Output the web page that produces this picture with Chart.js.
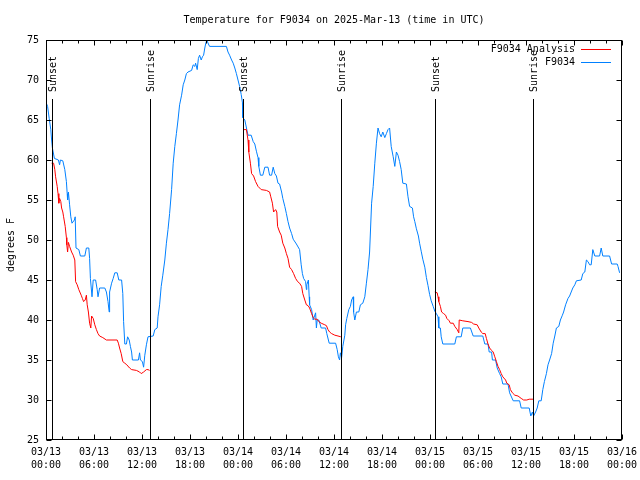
<!DOCTYPE html>
<html>
<head>
<meta charset="utf-8">
<script src="https://cdn.jsdelivr.net/npm/chart.js@4.4.1/dist/chart.umd.min.js"></script>
<style>
  html, body { margin: 0; padding: 0; background: #fff; }
  #wrap { width: 640px; height: 480px; }
</style>
</head>
<body>
<div id="wrap"><canvas id="chart" width="640" height="480"></canvas></div>
<script>
// hours since 03/13 00:00 UTC, degrees F

// F9034 station readings
const obsHours = [
  0.0, 0.2, 0.4, 0.6, 0.7, 0.8, 1.05, 1.55, 1.7, 1.8, 2.1, 2.35, 2.55, 2.65, 2.7, 2.8, 2.95, 3.1, 3.25, 3.55,
  3.65, 3.75, 4.1, 4.3, 4.85, 5.05, 5.35, 5.45, 5.55, 5.7, 5.75, 5.9, 6.2, 6.4, 6.5, 6.7, 7.35, 7.55, 7.75, 7.9,
  7.95, 8.2, 8.4, 8.6, 8.9, 9.1, 9.45, 9.6, 9.7, 9.85, 10.05, 10.2, 10.4, 10.55, 10.7, 10.8, 11.55, 11.7, 11.8, 12.05,
  12.2, 12.35, 12.55, 12.75, 13.4, 13.6, 13.9, 14.0, 14.2, 14.4, 14.6, 14.85, 15.05, 15.25, 15.45, 15.7, 15.9, 16.1, 16.3, 16.5,
  16.7, 16.95, 17.15, 17.35, 17.55, 17.75, 18.2, 18.4, 18.6, 18.7, 18.9, 19.05, 19.2, 19.4, 19.55, 19.7, 19.85, 19.95, 20.1, 20.3,
  20.45, 22.55, 22.75, 22.95, 23.2, 23.4, 23.6, 23.8, 24.0, 24.2, 24.4, 24.55, 24.6, 24.85, 25.1, 25.25, 25.65, 25.9, 26.1, 26.3,
  26.5, 26.6, 26.8, 27.1, 27.35, 27.75, 27.95, 28.2, 28.4, 28.6, 28.8, 29.0, 29.2, 29.45, 29.6, 29.85, 30.05, 30.25, 30.45, 30.7,
  30.9, 31.3, 31.7, 31.9, 32.05, 32.2, 32.45, 32.55, 32.6, 32.8, 32.9, 32.95, 33.2, 33.4, 33.7, 33.8, 33.9, 34.1, 34.4, 34.95,
  35.1, 35.4, 36.2, 36.4, 36.55, 36.7, 36.8, 36.95, 37.1, 37.35, 37.45, 37.6, 37.85, 38.05, 38.2, 38.4, 38.45, 38.6, 38.8, 39.1,
  39.3, 39.6, 39.85, 40.05, 40.25, 40.45, 40.7, 40.9, 41.1, 41.3, 41.5, 41.7, 41.9, 42.1, 42.35, 42.55, 42.75, 42.95, 43.15, 43.4,
  43.6, 43.8, 44.0, 44.2, 44.4, 44.6, 45.05, 45.25, 45.45, 45.8, 45.95, 46.1, 46.3, 46.55, 46.7, 46.9, 47.1, 47.35, 47.55, 47.75,
  47.95, 48.15, 48.4, 48.6, 48.8, 49.0, 49.1, 49.3, 49.4, 49.6, 51.1, 51.3, 51.9, 52.1, 53.05, 53.4, 54.6, 54.85, 55.25, 55.4,
  55.7, 55.8, 56.2, 56.4, 56.7, 56.9, 57.1, 57.75, 57.95, 58.4, 59.2, 59.4, 60.4, 60.6, 60.8, 60.95, 61.2, 61.4, 61.6, 61.9,
  62.1, 62.3, 62.55, 62.75, 62.95, 63.2, 63.4, 63.6, 63.8, 64.1, 64.3, 64.55, 64.7, 64.95, 65.25, 65.45, 65.65, 65.85, 66.1, 66.3,
  66.9, 67.1, 67.35, 67.55, 67.75, 67.95, 68.15, 68.35, 68.6, 69.2, 69.4, 69.6, 70.45, 70.7, 71.4, 71.5, 71.7
];
const obsTemps = [
  67.2, 66.7, 65.2, 63.8, 62.5, 61.5, 60.2, 60.0, 59.4, 60.0, 59.9, 58.8, 57.3, 55.8, 55.0, 56.0, 54.4, 52.9, 52.1, 52.5,
  52.9, 49.0, 48.8, 48.0, 48.0, 49.0, 49.0, 47.7, 45.2, 43.5, 42.9, 45.0, 45.0, 43.8, 42.9, 44.0, 44.0, 43.5, 42.3, 41.0,
  43.5, 44.6, 45.2, 45.9, 45.9, 45.0, 45.0, 43.3, 39.8, 37.0, 37.0, 37.9, 37.5, 36.7, 36.0, 35.0, 35.0, 35.9, 35.0, 34.8,
  34.1, 35.6, 36.9, 37.9, 38.0, 38.8, 39.0, 40.4, 41.9, 44.2, 45.6, 47.5, 49.6, 51.3, 53.3, 56.3, 59.6, 61.7, 63.3, 65.0,
  66.9, 68.1, 69.4, 70.0, 70.8, 71.0, 71.2, 71.9, 71.7, 72.1, 71.3, 72.7, 73.1, 72.5, 72.9, 73.1, 74.0, 74.5, 75.0, 74.5,
  74.2, 74.2, 73.5, 73.1, 72.5, 72.1, 71.5, 70.8, 70.0, 69.2, 68.2, 67.2, 65.3, 65.0, 63.8, 63.1, 63.1, 62.3, 62.0, 61.1,
  60.3, 59.2, 58.1, 58.1, 59.1, 59.1, 58.1, 58.1, 59.1, 58.3, 58.0, 57.1, 57.0, 56.0, 55.2, 54.2, 53.3, 52.3, 51.5, 50.8,
  50.1, 49.5, 48.8, 46.9, 45.8, 45.2, 44.8, 43.8, 44.4, 45.0, 42.9, 41.9, 41.3, 40.0, 40.9, 39.0, 40.0, 40.0, 39.0, 39.0,
  38.3, 37.1, 37.1, 36.3, 35.4, 35.0, 35.9, 35.3, 36.7, 38.1, 39.4, 40.2, 41.3, 41.7, 42.5, 42.9, 41.0, 40.0, 41.0, 41.0,
  41.9, 42.1, 42.9, 44.6, 46.3, 48.5, 54.6, 56.7, 59.6, 62.1, 64.0, 63.3, 62.9, 63.5, 62.8, 63.3, 63.8, 64.0, 61.7, 60.4,
  59.2, 61.0, 60.6, 59.8, 58.8, 57.1, 57.0, 55.4, 54.2, 54.0, 52.9, 52.3, 51.4, 50.5, 49.6, 48.6, 47.6, 46.6, 45.3, 44.3,
  43.2, 42.4, 41.7, 41.1, 40.8, 40.4, 39.0, 39.0, 37.9, 37.0, 37.0, 37.9, 37.9, 39.0, 39.0, 38.0, 38.0, 37.0, 37.0, 36.0,
  36.0, 35.0, 35.0, 34.0, 33.3, 32.9, 32.0, 32.0, 30.9, 29.9, 29.9, 29.0, 29.0, 28.0, 28.5, 28.0, 28.5, 29.0, 29.9, 29.9,
  31.3, 32.3, 33.3, 34.4, 35.0, 35.8, 37.1, 38.0, 39.0, 39.2, 40.0, 40.6, 41.0, 41.9, 42.7, 43.0, 43.5, 44.0, 44.4, 44.9,
  45.0, 45.8, 46.0, 47.5, 47.3, 46.9, 46.9, 48.8, 48.0, 48.0, 49.0, 48.0, 48.0, 47.0, 47.0, 46.7, 45.9
];

// F9034 Analysis (night-time only; null splits the nights)
const anaHours = [
  0.7, 0.95, 1.1, 1.2, 1.4, 1.5, 1.6, 1.7, 1.85, 1.95, 2.1, 2.2, 2.4, 2.55, 2.6, 2.7, 2.8, 2.95, 3.2, 3.4,
  3.6, 3.7, 3.9, 4.1, 4.4, 4.55, 4.7, 4.9, 5.05, 5.15, 5.3, 5.45, 5.6, 5.7, 5.9, 6.1, 6.3, 6.5, 6.7, 7.1,
  7.55, 8.9, 9.05, 9.2, 9.4, 9.6, 9.85, 10.1, 10.45, 10.7, 11.3, 11.7, 11.9, 12.2, 12.55, 12.75, 12.95,
  18.0,
  24.65, 25.05, 25.25, 25.35, 25.55, 25.7, 25.95, 26.2, 26.5, 26.9, 27.55, 27.95, 28.1, 28.3, 28.45, 28.7, 28.85, 28.95, 29.2, 29.4,
  29.6, 29.85, 30.05, 30.25, 30.45, 30.7, 30.95, 31.2, 31.45, 31.7, 31.95, 32.1, 32.35, 32.55, 32.75, 32.95, 33.2, 33.4, 33.6, 33.9,
  34.1, 34.4, 34.85, 35.05, 35.25, 35.45, 35.7, 36.1, 36.5, 36.85,
  42.0,
  48.6, 48.9, 49.0, 49.1, 49.3, 49.45, 49.7, 49.95, 50.1, 50.4, 50.55, 50.9, 51.1, 51.4, 51.6, 51.65, 52.1, 52.75, 53.2, 53.45,
  53.9, 54.1, 54.4, 54.6, 54.9, 55.05, 55.25, 55.45, 55.7, 55.9, 56.1, 56.3, 56.5, 56.7, 56.9, 57.1, 57.45, 57.6, 57.9, 58.05,
  58.3, 58.6, 59.0, 59.4, 59.7, 60.1, 60.4, 60.9
];
const anaTemps = [
  59.6, 59.6, 58.8, 57.9, 56.7, 55.8, 54.6, 55.2, 54.8, 54.0, 53.5, 52.9, 51.7, 50.3, 49.4, 48.5, 49.7, 49.2, 48.5, 48.1,
  47.5, 44.8, 44.4, 43.8, 43.1, 42.7, 42.3, 42.5, 43.1, 41.9, 41.0, 39.6, 39.0, 40.5, 40.2, 39.4, 38.8, 38.3, 38.0, 37.8,
  37.5, 37.5, 37.1, 36.5, 35.8, 34.8, 34.6, 34.4, 34.0, 33.8, 33.7, 33.5, 33.3, 33.5, 33.8, 33.8, 33.7,
  null,
  63.8, 63.8, 62.5, 61.0, 59.6, 58.3, 58.0, 57.3, 56.7, 56.3, 56.2, 56.0, 55.4, 54.6, 53.5, 53.8, 53.5, 51.7, 51.0, 50.6,
  49.6, 49.0, 48.3, 47.7, 46.6, 46.3, 45.8, 45.2, 44.8, 44.6, 44.2, 43.3, 42.5, 41.9, 41.8, 41.5, 40.8, 40.3, 40.1, 40.1,
  39.8, 39.6, 39.4, 39.3, 38.8, 38.5, 38.3, 38.1, 38.0, 37.9,
  null,
  43.5, 43.4, 42.9, 42.3, 41.7, 41.0, 40.8, 40.6, 40.2, 39.9, 39.6, 39.6, 39.2, 38.8, 38.4, 40.0, 39.9, 39.8, 39.7, 39.5,
  39.4, 39.0, 38.5, 38.3, 38.3, 37.7, 37.0, 36.5, 36.2, 36.0, 35.4, 34.8, 34.2, 33.8, 33.3, 32.9, 32.5, 32.1, 31.9, 31.3,
  30.9, 30.6, 30.5, 30.2, 30.0, 30.0, 30.1, 30.1
];

// sunset / sunrise markers
const sunHours = [0.74, 13.0, 24.6, 36.9, 48.6, 60.9];
const sunLabels = ['Sunset', 'Sunrise', 'Sunset', 'Sunrise', 'Sunset', 'Sunrise'];

// x tick labels, one per 6 hours
const tickDates = ['03/13', '03/13', '03/13', '03/13', '03/14', '03/14', '03/14', '03/14', '03/15', '03/15', '03/15', '03/15', '03/16'];
const tickTimes = ['00:00', '06:00', '12:00', '18:00', '00:00', '06:00', '12:00', '18:00', '00:00', '06:00', '12:00', '18:00', '00:00'];

const FONT = '"DejaVu Sans Mono", "Liberation Mono", monospace';

function toPoints(xs, ys) {
	return xs.map((x, i) => ({ x: x, y: ys[i] }));
}

// gnuplot-ish frame: border, inward ticks, texts, sun markers, legend
const gnuplotFrame = {
	id: 'gnuplotFrame',
	afterDatasetsDraw(chart) {
		const ctx = chart.ctx;
		const a = chart.chartArea;
		const xs = chart.scales.x;
		const ys = chart.scales.y;
		ctx.save();
		ctx.strokeStyle = '#000';
		ctx.lineWidth = 1;

		// sunrise / sunset lines
		ctx.beginPath();
		sunHours.forEach((h) => {
			const px = Math.round(xs.getPixelForValue(h)) + 0.5;
			ctx.moveTo(px, 99);
			ctx.lineTo(px, a.bottom);
		});
		ctx.stroke();

		// border
		const l = Math.round(a.left) + 0.5, r = Math.round(a.right) - 0.5;
		const t = Math.round(a.top) + 0.5, b = Math.round(a.bottom) - 0.5;
		ctx.strokeRect(l, t, r - l, b - t);

		// x ticks, major every 6h and minor every 2h, top and bottom
		ctx.beginPath();
		for (let h = 0; h <= 72; h += 2) {
			const px = Math.round(xs.getPixelForValue(h)) + 0.5;
			const len = h % 6 === 0 ? 5 : 3;
			ctx.moveTo(px, b); ctx.lineTo(px, b - len);
			ctx.moveTo(px, t); ctx.lineTo(px, t + len);
		}
		// y ticks, left and right
		for (let v = 25; v <= 75; v += 5) {
			const py = Math.round(ys.getPixelForValue(v)) + 0.5;
			ctx.moveTo(l, py); ctx.lineTo(l + 5, py);
			ctx.moveTo(r, py); ctx.lineTo(r - 5, py);
		}
		ctx.stroke();

		ctx.fillStyle = '#000';
		ctx.font = '10px ' + FONT;

		// marker labels, rotated
		sunHours.forEach((h, i) => {
			const px = Math.round(xs.getPixelForValue(h)) + 1.5;
			ctx.save();
			ctx.translate(px, 92);
			ctx.rotate(-Math.PI / 2);
			ctx.textAlign = 'left';
			ctx.textBaseline = 'middle';
			ctx.fillText(sunLabels[i], 0, 0);
			ctx.restore();
		});

		// title
		ctx.textAlign = 'center';
		ctx.textBaseline = 'middle';
		ctx.fillText('Temperature for F9034 on 2025-Mar-13 (time in UTC)', (a.left + a.right) / 2, 20);

		// y axis label
		ctx.save();
		ctx.translate(11, 245);
		ctx.rotate(-Math.PI / 2);
		ctx.fillText('degrees F', 0, 0);
		ctx.restore();

		// legend
		const keys = [
			{ label: 'F9034 Analysis', color: '#ff0000', y: 49.5 },
			{ label: 'F9034', color: '#0080ff', y: 62.5 }
		];
		keys.forEach((k) => {
			ctx.textAlign = 'right';
			ctx.fillStyle = '#000';
			ctx.fillText(k.label, 575, k.y);
			ctx.strokeStyle = k.color;
			ctx.beginPath();
			ctx.moveTo(581, k.y);
			ctx.lineTo(611, k.y);
			ctx.stroke();
		});
		ctx.restore();
	}
};

new Chart(document.getElementById('chart'), {
	type: 'line',
	data: {
		datasets: [
			{
				label: 'F9034 Analysis',
				data: toPoints(anaHours, anaTemps),
				borderColor: '#ff0000',
				borderWidth: 1,
				pointRadius: 0,
				spanGaps: false,
				tension: 0
			},
			{
				label: 'F9034',
				data: toPoints(obsHours, obsTemps),
				borderColor: '#0080ff',
				borderWidth: 1,
				pointRadius: 0,
				tension: 0
			}
		]
	},
	options: {
		responsive: false,
		animation: false,
		devicePixelRatio: 1,
		layout: { padding: { top: 40, right: 18, left: 0, bottom: 0 } },
		plugins: {
			legend: { display: false },
			tooltip: { enabled: false }
		},
		scales: {
			x: {
				type: 'linear',
				min: 0,
				max: 72,
				afterFit: (s) => {
					s.height = 40;
					s.paddingLeft = 0;
					s.paddingRight = 0;
				},
				grid: { display: false, drawTicks: false },
				border: { display: false },
				ticks: {
					stepSize: 6,
					autoSkip: false,
					maxRotation: 0,
					padding: 6,
					color: '#000',
					font: { family: FONT, size: 10, lineHeight: 1.3 },
					callback: (v) => {
						const i = Math.round(v / 6);
						return [tickDates[i], tickTimes[i]];
					}
				}
			},
			y: {
				min: 25,
				max: 75,
				afterFit: (s) => {
					s.width = 46;
					s.paddingTop = 0;
					s.paddingBottom = 0;
				},
				grid: { display: false, drawTicks: false },
				border: { display: false },
				ticks: {
					stepSize: 5,
					padding: 7,
					color: '#000',
					font: { family: FONT, size: 10 }
				}
			}
		}
	},
	plugins: [gnuplotFrame]
});
</script>
</body>
</html>
